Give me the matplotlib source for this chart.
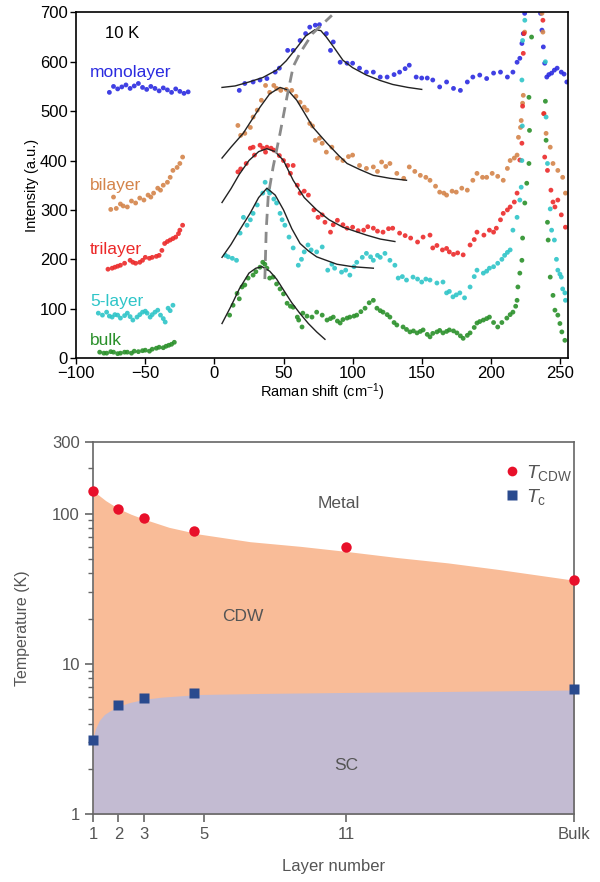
import numpy as np
import matplotlib
matplotlib.use('Agg')
import matplotlib.pyplot as plt
from matplotlib.lines import Line2D
from matplotlib.ticker import FixedLocator, NullFormatter

# ---------------- 上图: 拉曼光谱 (10 K) ----------------
mono_pts = [(-76, 538), (-73, 550), (-70, 545), (-67, 549), (-64, 553), (-61, 546), (-58, 551), (-55, 556),
            (-52, 548), (-49, 544), (-46, 550), (-43, 546), (-40, 541), (-37, 547), (-34, 543), (-31, 538),
            (-28, 545), (-25, 540), (-22, 536), (-19, 539),
            (18, 542), (22, 556), (28, 559), (33, 563), (38, 566), (44, 579), (47, 587), (53, 623), (57, 623),
            (62, 643), (66, 657), (69, 670), (73, 674), (76, 675), (81, 657), (84, 623), (86, 640), (91, 599),
            (96, 597), (100, 597), (105, 587), (110, 579), (115, 579), (120, 569), (125, 569), (130, 574),
            (134, 579), (138, 586), (141, 593), (146, 569), (150, 567), (154, 567), (158, 563), (163, 549),
            (168, 559), (173, 546), (178, 542), (183, 559), (187, 569), (192, 573), (197, 566), (202, 577),
            (207, 579), (212, 569), (216, 579), (219, 599), (221, 607), (222.5, 637), (223.5, 657), (224.5, 698),
            (225.5, 730), (235, 730), (236, 698), (237, 664), (238, 630), (239, 597), (240.5, 569), (242, 574),
            (244, 577), (246, 583), (248, 587), (251, 579), (253, 575), (255, 559)]
bi_pts = [(-75, 301), (-73, 326), (-71, 303), (-68, 312), (-66, 308), (-63, 306), (-60, 318), (-57, 314),
          (-54, 324), (-51, 320), (-48, 330), (-46, 326), (-44, 334), (-41, 344), (-39, 340), (-37, 350),
          (-34, 356), (-32, 366), (-30, 380), (-27, 386), (-25, 394), (-23, 407),
          (17, 471), (19, 451), (22, 455), (26, 467), (28, 488), (31, 502), (34, 522), (37, 552), (40, 538),
          (43, 552), (45, 546), (48, 542), (52, 544), (56, 542), (59, 530), (62, 518), (65, 508), (67, 502),
          (69, 475), (71, 470), (73, 441), (76, 445), (78, 435), (81, 417), (85, 427), (89, 405), (93, 400),
          (97, 408), (100, 411), (105, 390), (110, 384), (115, 387), (118, 378), (121, 397), (124, 388),
          (127, 394), (132, 374), (137, 364), (141, 387), (145, 378), (149, 370), (153, 366), (156, 360),
          (160, 348), (163, 336), (166, 334), (168, 330), (172, 338), (175, 336), (179, 344), (183, 340),
          (187, 360), (190, 374), (194, 366), (197, 366), (201, 374), (205, 368), (209, 360), (212, 384),
          (214, 400), (217, 405), (219, 411), (220, 447), (221.5, 467), (222, 481), (223, 516), (223.5, 532),
          (224.5, 660), (225.5, 730), (236.5, 730), (237, 698), (237.7, 660), (238.5, 495), (240, 455),
          (243, 427), (245, 394), (248.5, 380), (252, 366), (254, 334)]
tri_pts = [(-77, 180), (-74, 182), (-72, 184), (-70, 186), (-68, 188), (-65, 192), (-61, 198), (-59, 194),
           (-57, 192), (-54, 194), (-52, 198), (-50, 204), (-47, 202), (-45, 204), (-42, 206), (-40, 208),
           (-38, 218), (-36, 232), (-34, 236), (-32, 239), (-30, 242), (-28, 245), (-26, 252), (-25, 259),
           (-23, 269),
           (17, 377), (19, 383), (23, 394), (26, 425), (28, 427), (29, 411), (33, 431), (35, 425), (37, 417),
           (38, 427), (41, 425), (43, 421), (47, 410), (50, 400), (53, 390), (55, 374), (57, 390), (60, 350),
           (62, 334), (65, 338), (68, 330), (72, 300), (75, 285), (78, 290), (80, 275), (84, 255), (86, 270),
           (89, 279), (93, 270), (96, 263), (100, 265), (104, 258), (108, 259), (111, 266), (115, 263),
           (118, 257), (122, 255), (126, 262), (129, 263), (134, 253), (138, 248), (142, 243), (147, 235),
           (151, 245), (156, 249), (158, 223), (161, 228), (165, 219), (168, 222), (170, 215), (173, 210),
           (176, 213), (180, 209), (185, 229), (188, 240), (190, 255), (195, 249), (199, 259), (202, 255),
           (204, 263), (207, 280), (209, 293), (212, 300), (214, 306), (217, 316), (219, 334), (221, 401),
           (222.5, 435), (223, 510), (223.5, 617), (224, 657), (225, 730), (237, 730), (237.7, 684),
           (238.3, 495), (239, 407), (241, 380), (243.5, 340), (245, 316), (246.4, 306), (248.5, 320),
           (251, 290), (254, 265)]
five_pts = [(-84, 91), (-81, 87), (-78, 93), (-76, 85), (-74, 83), (-72, 88), (-70, 87), (-68, 81), (-65, 86),
            (-63, 91), (-61, 84), (-59, 77), (-56, 83), (-54, 88), (-52, 93), (-50, 95), (-48.7, 91),
            (-46.5, 83), (-45, 88), (-43, 93), (-41, 97), (-39, 87), (-37, 80), (-35.6, 73), (-33.5, 101),
            (-32, 96), (-30, 107),
            (8, 208), (10, 205), (13, 202), (16, 198), (18.6, 253), (21, 285), (23.6, 269), (26, 280), (28, 293),
            (31, 310), (35, 334), (36.7, 356), (39, 340), (40, 334), (43, 322), (45, 314), (47.5, 293),
            (49, 280), (51, 269), (54, 245), (57, 223), (60.7, 188), (63, 200), (65, 215), (67.7, 229),
            (70, 219), (74, 215), (78, 225), (82, 178), (85, 190), (87, 182), (92, 174), (95, 178), (98, 168),
            (101, 185), (103, 194), (107, 204), (110, 212), (113, 205), (115, 198), (118, 208), (120, 204),
            (123.4, 212), (127, 198), (130.6, 188), (133, 162), (136, 165), (139, 158), (143.7, 164),
            (147, 160), (150, 154), (153, 160), (156, 158), (161, 152), (165.4, 154), (168, 132), (170, 135),
            (172.6, 124), (175, 128), (177.6, 132), (181, 122), (185, 144), (188, 165), (190, 178),
            (194.6, 172), (197, 176), (199, 182), (202, 185), (205, 192), (208, 200), (210, 208), (212, 214),
            (214, 219), (216, 259), (219, 285), (221, 320), (222, 346), (222.5, 400), (222.8, 470),
            (222.5, 563), (223, 643), (224.6, 684), (225.5, 730), (239, 730), (239.5, 600), (240, 488),
            (241, 394), (243, 302), (244, 259), (246, 239), (247.5, 200), (248.5, 178), (250, 170), (251, 164),
            (252, 140), (253.6, 132), (254, 117)]
bulk_pts = [(-83, 12), (-80, 10), (-78, 10), (-75, 13), (-73, 12), (-70, 9), (-68, 10), (-65, 12), (-63, 12),
            (-60, 10), (-58, 14), (-55, 13), (-52, 15), (-50, 16), (-47, 14), (-45, 18), (-42, 20), (-40, 22),
            (-37, 21), (-35, 24), (-33, 26), (-31, 28), (-29, 32),
            (11, 87), (13.5, 107), (16.4, 131), (18, 120), (20, 144), (22, 148), (24.4, 162), (28, 168),
            (30, 175), (33, 184), (35, 194), (36.5, 190), (38, 182), (40, 162), (42.5, 164), (45, 150),
            (47.5, 140), (50, 130), (52.6, 111), (55, 105), (57, 103), (60, 83), (61, 77), (63.4, 63), (64, 91),
            (67, 85), (70.6, 83), (74, 93), (78, 87), (81.5, 77), (84, 80), (86, 83), (89, 75), (91, 71),
            (93, 78), (96, 81), (98, 83), (101, 85), (103, 87), (106, 94), (109, 101), (112, 112), (115, 117),
            (117.6, 101), (120, 96), (122, 93), (125, 88), (127, 83), (130, 72), (132, 67), (136.5, 63),
            (139, 58), (141.5, 53), (144, 55), (146.6, 51), (149, 54), (151, 57), (154, 48), (156, 43),
            (158, 50), (161, 53), (163, 56), (165.4, 51), (168, 54), (170, 57), (173, 55), (175.5, 51),
            (178, 45), (180, 40), (183, 46), (185, 51), (188, 62), (190, 71), (192, 74), (194.6, 77), (197, 80),
            (199, 83), (202, 72), (205, 63), (208, 72), (211.6, 81), (214, 88), (216, 93), (218, 105),
            (219, 117), (219.6, 144), (221, 172), (222.5, 198), (223, 243), (224.6, 314), (226, 354),
            (227.6, 394), (228, 461), (227.6, 528), (229.5, 650), (230.5, 720), (239, 720), (239.5, 520),
            (240, 441), (241, 275), (241.5, 239), (243, 164), (245, 127), (246.4, 97), (248.5, 87), (250, 70),
            (251.4, 53), (253.6, 36)]

# 拟合曲线 (黑色细线)
mono_fit = [(5.5, 548), (15, 551), (25, 559), (35, 568), (45, 583), (52, 602), (60, 630), (66, 652), (72.8, 665),
            (77, 663), (81, 650), (87, 627), (93, 603), (100, 588), (110, 573), (120, 562), (129, 554),
            (140, 548), (150, 544)]
bi_fit = [(5.5, 405), (12, 427), (20.8, 455), (27, 482), (33, 508), (40, 535), (47.5, 548), (53, 543),
          (59.6, 522), (65, 497), (71.4, 467), (81.5, 435), (90, 410), (96, 394), (105, 382), (115, 370),
          (127, 364), (139, 360)]
tri_fit = [(5.5, 315), (12, 343), (18, 372), (25, 400), (32, 418), (38, 424), (44, 418), (50, 400), (57, 360),
           (65, 325), (74, 300), (83, 280), (93, 265), (110, 249), (120, 241), (130.6, 236)]
five_fit = [(5.5, 204), (12, 230), (18, 258), (25.8, 293), (32, 325), (38, 344), (44, 330), (50, 300),
            (56, 262), (62, 232), (68, 217), (74, 205), (88.7, 190), (100, 185), (115, 182)]
bulk_fit = [(5.5, 70), (12, 105), (18, 140), (25, 172), (30, 182), (34.5, 185), (40, 176), (45, 160),
            (50, 138), (56, 112), (62, 90), (68, 70), (74, 53), (80, 38)]
# 峰位随层数移动的虚线
peak_trace = [(36.5, 160), (37.5, 260), (39, 330), (40, 346), (42.5, 387), (47.5, 455), (52.6, 530),
              (57, 590), (62, 618), (71, 657), (85, 694)]

series_names = ['monolayer', 'bilayer', 'trilayer', '5-layer', 'bulk']
series_colors = ['#2b2be0', '#d4844a', '#ec2a2a', '#2ec5c8', '#2a902a']
series_label_y = [579, 350, 220, 115, 36]

# ---------------- 下图: 相图 ----------------
layer_ticks = ['1', '2', '3', '5', '11', 'Bulk']
layer_tick_pos = [1, 2, 3, 5.4, 11, 20]
cdw_layers = [1, 2, 3, 5, 11, 20]
t_cdw = [142, 108, 93, 76, 60, 36]
tc_layers = [1, 2, 3, 5, 20]
t_c = [3.1, 5.35, 5.95, 6.4, 6.8]
cdw_edge_x = [1, 1.5, 2, 2.5, 3, 4, 5.2, 7.2, 9.2, 11, 13, 15, 17, 20]
cdw_edge_t = [142, 122, 108, 99, 92, 81, 73, 65, 60.5, 56, 51, 47, 42.5, 36]
sc_edge_x = [1, 1.1, 1.25, 1.45, 1.7, 2.0, 2.4, 3.0, 3.7, 5.2, 7.6, 11, 15, 20]
sc_edge_t = [3.2, 3.7, 4.2, 4.6, 4.9, 5.2, 5.5, 5.8, 6.0, 6.25, 6.35, 6.45, 6.55, 6.7]


def draw_raman(ax):
    all_pts = [mono_pts, bi_pts, tri_pts, five_pts, bulk_pts]
    all_fits = [mono_fit, bi_fit, tri_fit, five_fit, bulk_fit]
    for pts, fit, name, color, ly in zip(all_pts, all_fits, series_names, series_colors, series_label_y):
        p = np.array(pts)
        ax.scatter(p[:, 0], p[:, 1], s=12, color=color, edgecolors='none', alpha=0.9, zorder=2)
        f = np.array(fit)
        ax.plot(f[:, 0], f[:, 1], color='#222222', lw=1.0, zorder=3)
        ax.text(-90, ly, name, color=color, fontsize=12.5, va='center', ha='left')
    d = np.array(peak_trace)
    ax.plot(d[:, 0], d[:, 1], color='#8a8a8a', lw=2, ls=(0, (4, 2.5)), zorder=4)
    ax.text(-79, 658, '10 K', fontsize=12, va='center', ha='left')

    ax.set_xlim(-100, 256)
    ax.set_ylim(0, 700)
    ax.set_xticks(np.arange(-100, 251, 50))
    ax.set_yticks(np.arange(0, 701, 100))
    ax.tick_params(direction='out', length=4, width=1, labelsize=12, pad=2, top=False, right=False)
    for s in ax.spines.values():
        s.set_linewidth(1.2)
    ax.set_xlabel('Raman shift (cm$^{-1}$)', fontsize=10.5, labelpad=0)
    ax.set_ylabel('Intensity (a.u.)', fontsize=10.5, labelpad=1)


def draw_phase(ax):
    grey = '#555555'
    ax.set_yscale('log')
    ax.fill_between(cdw_edge_x, 1, cdw_edge_t, color='#f9bc98', lw=0, zorder=1)
    ax.fill_between(sc_edge_x, 1, sc_edge_t, color='#c3bbd2', lw=0, zorder=2)
    ax.plot(cdw_layers, t_cdw, 'o', color='#e8102a', ms=7.5, mec='none', clip_on=False, zorder=5)
    ax.plot(tc_layers, t_c, 's', color='#2a4a8e', ms=7.5, mec='none', clip_on=False, zorder=5)

    ax.text(10.7, 116, 'Metal', color=grey, fontsize=12.5, ha='center', va='center')
    ax.text(6.9, 20.8, 'CDW', color=grey, fontsize=12.5, ha='center', va='center')
    ax.text(11, 2.1, 'SC', color=grey, fontsize=12.5, ha='center', va='center')

    handles = [Line2D([], [], ls='none', marker='o', color='#e8102a', ms=7, mec='none'),
               Line2D([], [], ls='none', marker='s', color='#2a4a8e', ms=7, mec='none')]
    ax.legend(handles, [r'$T_{\mathrm{CDW}}$', r'$T_{\mathrm{c}}$'], loc='upper left',
              bbox_to_anchor=(0.815, 0.99), frameon=False, handletextpad=0.2, handlelength=1.0,
              labelspacing=0.2, fontsize=14, labelcolor=grey)

    ax.set_xlim(1, 20)
    ax.set_ylim(1, 300)
    ax.xaxis.set_major_locator(FixedLocator(layer_tick_pos))
    ax.set_xticklabels(layer_ticks)
    ax.yaxis.set_major_locator(FixedLocator([1, 10, 100, 300]))
    ax.set_yticklabels(['1', '10', '100', '300'])
    minors = [v * m for m in (1, 10, 100) for v in range(2, 10) if v * m < 300]
    ax.yaxis.set_minor_locator(FixedLocator(minors))
    ax.yaxis.set_minor_formatter(NullFormatter())
    ax.tick_params(which='major', direction='out', length=6, width=1.2, colors='#666666',
                   labelcolor=grey, labelsize=12)
    ax.tick_params(which='minor', direction='out', length=3.5, width=1, colors='#666666')
    for s in ax.spines.values():
        s.set_color('#666666')
        s.set_linewidth(1.2)
    ax.set_xlabel('Layer number', color=grey, fontsize=12, labelpad=12)
    ax.set_ylabel('Temperature (K)', color=grey, fontsize=11.5, labelpad=16)


def main():
    plt.rcParams['font.family'] = ['Liberation Sans', 'DejaVu Sans']
    plt.rcParams['mathtext.fontset'] = 'custom'
    plt.rcParams['mathtext.rm'] = 'Liberation Sans'
    plt.rcParams['mathtext.it'] = 'Liberation Sans:italic'

    fig = plt.figure(figsize=(6, 8.82), dpi=100)
    ax1 = fig.add_axes([0.127, 0.594, 0.82, 0.392])
    draw_raman(ax1)
    ax2 = fig.add_axes([0.155, 0.077, 0.802, 0.422])
    draw_phase(ax2)
    fig.savefig('out.png', dpi=100)


if __name__ == '__main__':
    main()
